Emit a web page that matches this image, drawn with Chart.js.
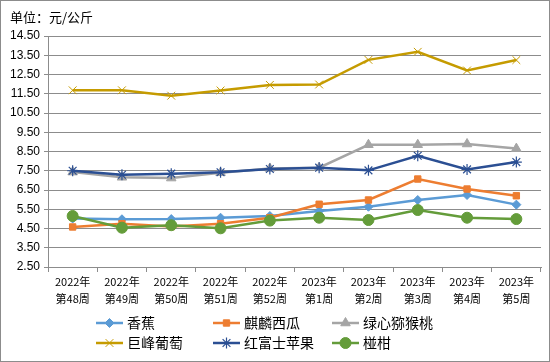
<!DOCTYPE html>
<html><head><meta charset="utf-8">
<script src="https://cdn.jsdelivr.net/npm/chart.js@4/dist/chart.umd.min.js"></script>
<style>html,body{margin:0;padding:0;background:#fff}#wrap{width:550px;height:362px;position:relative}</style>
</head><body><div id="wrap"><canvas id="c" width="550" height="362"></canvas></div>
<script>
const unitTitle = '单位：元/公斤';
const categories = [['2022年','第48周'],['2022年','第49周'],['2022年','第50周'],['2022年','第51周'],['2022年','第52周'],['2023年','第1周'],['2023年','第2周'],['2023年','第3周'],['2023年','第4周'],['2023年','第5周']];
const seriesNames = ['香蕉','麒麟西瓜','绿心猕猴桃','巨峰葡萄','红富士苹果','椪柑'];
const banana     = [5.02, 4.98, 4.99, 5.06, 5.15, 5.41, 5.63, 5.98, 6.24, 5.74];
const watermelon = [4.58, 4.75, 4.60, 4.75, 5.06, 5.76, 5.98, 7.07, 6.55, 6.20];
const kiwi       = [7.43, 7.16, 7.12, 7.40, 7.62, 7.66, 8.85, 8.85, 8.89, 8.65];
const grape      = [11.68, 11.68, 11.40, 11.67, 11.96, 11.98, 13.26, 13.68, 12.71, 13.25];
const apple      = [7.50, 7.29, 7.35, 7.42, 7.59, 7.66, 7.52, 8.28, 7.57, 7.95];
const tangerine  = [5.15, 4.54, 4.67, 4.51, 4.91, 5.06, 4.94, 5.46, 5.06, 4.99];
const yMin = 2.5, yMax = 14.5, yStep = 1;

const colors = ['#5B9BD5','#ED7D31','#A5A5A5','#C59B00','#2B4F93','#649C3A'];
const styles = [
  {pointStyle:'rectRot', radius:4.5, bw:1},
  {pointStyle:'rect', radius:4.5, bw:1},
  {pointStyle:'triangle', radius:5.5, bw:1},
  {pointStyle:'crossRot', radius:5.5, bw:1},
  {pointStyle:'star', radius:5.5, bw:1.2},
  {pointStyle:'circle', radius:5.5, bw:1}
];
const values = [banana, watermelon, kiwi, grape, apple, tangerine];

const datasets = values.map((v,i)=>({
  label: seriesNames[i], data: v,
  borderColor: colors[i], backgroundColor: colors[i],
  borderWidth: 2.5, pointStyle: styles[i].pointStyle,
  pointRadius: styles[i].radius, pointBorderWidth: styles[i].bw,
  pointBorderColor: colors[i], pointBackgroundColor: colors[i],
  tension: 0,
  order: values.length - i
}));

const frame = {
  id:'frame',
  afterDraw(chart){
    const ctx = chart.ctx;
    ctx.save();
    ctx.strokeStyle = '#8c8c8c'; ctx.lineWidth = 1;
    ctx.strokeRect(0.5,0.5,549,361);
    ctx.fillStyle = '#000';
    ctx.font = '13px "Noto Sans CJK SC"';
    ctx.textBaseline = 'middle'; ctx.textAlign = 'left';
    ctx.fillText(unitTitle, 10, 17);
    const cols = [96, 213, 332], rows = [323, 343];
    seriesNames.forEach((name,i)=>{
      const x = cols[i%3], y = rows[Math.floor(i/3)];
      ctx.strokeStyle = colors[i]; ctx.lineWidth = 2.5;
      ctx.beginPath(); ctx.moveTo(x,y); ctx.lineTo(x+27,y); ctx.stroke();
      ctx.fillStyle = colors[i]; ctx.strokeStyle = colors[i]; ctx.lineWidth = styles[i].bw;
      Chart.helpers.drawPoint(ctx, {pointStyle: styles[i].pointStyle, radius: styles[i].radius, rotation:0, borderWidth: styles[i].bw}, x+13.5, y);
      ctx.fillStyle = '#000';
      ctx.font = '14px "Noto Sans CJK SC"';
      ctx.fillText(name, x+31, y);
    });
    ctx.restore();
  }
};

new Chart(document.getElementById('c'), {
  type:'line',
  data:{ labels: categories, datasets },
  options:{
    responsive:false, animation:false,
    layout:{ padding:{ left:8, right:9, top:36, bottom:0 } },
    plugins:{ legend:{display:false}, title:{display:false}, tooltip:{enabled:false} },
    scales:{
      x:{
        offset:true,
        grid:{ offset:true, drawOnChartArea:false, drawTicks:true, tickLength:5, color:'#8c8c8c' },
        border:{ display:true, color:'#8c8c8c' },
        ticks:{ color:'#000', font:{ family:'"Noto Sans CJK SC"', size:11, lineHeight:1.5 }, padding:2, maxRotation:0, autoSkip:false },
        afterFit(s){ s.height = 95; }
      },
      y:{
        min:yMin, max:yMax,
        ticks:{ stepSize:yStep, color:'#000', font:{ family:'"Liberation Sans"', size:12 }, padding:4,
          callback:(v)=>Number(v).toFixed(2) },
        grid:{ color:'#8c8c8c', tickLength:4 },
        border:{ display:true, color:'#8c8c8c' },
        afterFit(s){ s.width = 40; }
      }
    }
  },
  plugins:[frame]
});
</script></body></html>
